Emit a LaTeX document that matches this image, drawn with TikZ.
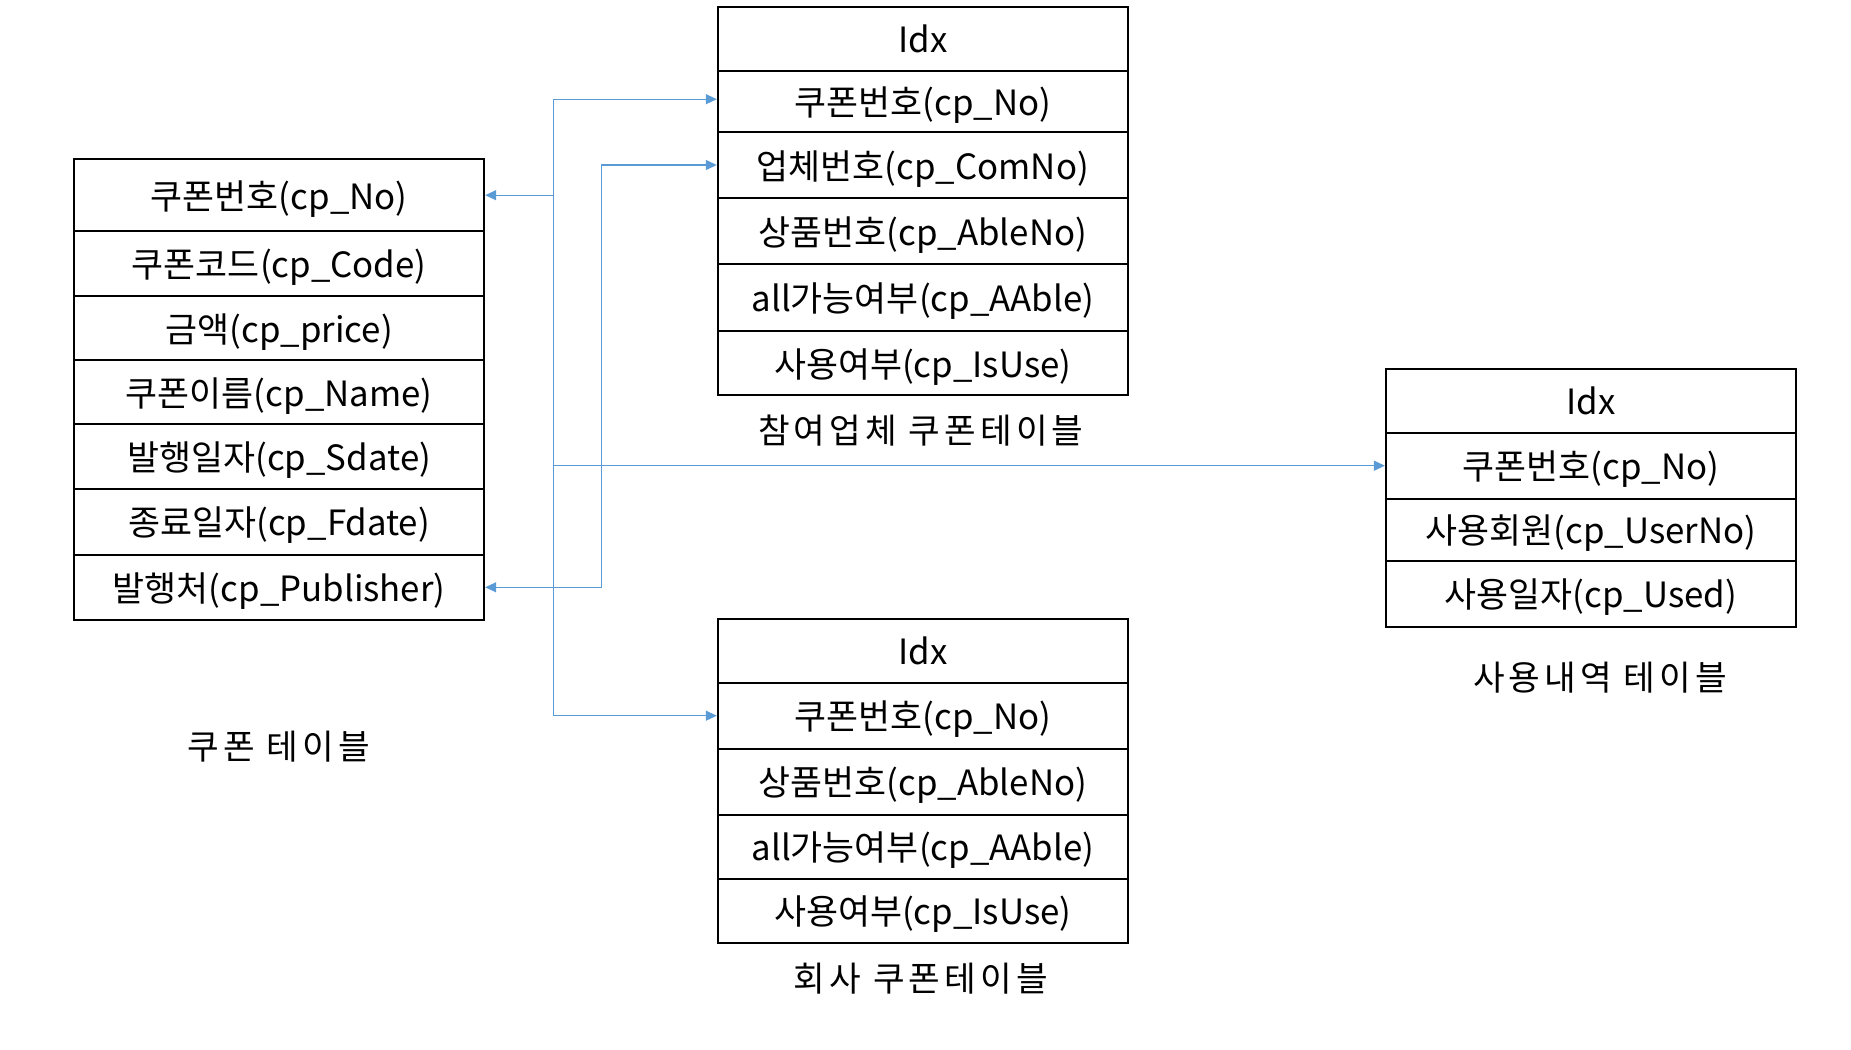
\documentclass[tikz,border=0pt]{standalone}
\usepackage{fontspec}
\setmainfont{Noto Sans CJK KR}
\newfontfamily\capfont[LetterSpace=12]{Noto Sans CJK KR}
\usetikzlibrary{arrows.meta}
\definecolor{linkblue}{HTML}{5B9BD5}
\begin{document}
\begin{tikzpicture}[x=0.5pt,y=-0.5pt,
  cell/.style={draw=black,line width=1pt,minimum width=205pt,inner sep=0pt,text height=17pt,text depth=3pt,font=\fontsize{17.4}{20}\selectfont},
  caption/.style={inner sep=0pt,font=\capfont\fontsize{17.2}{20}\selectfont},
  conn/.style={draw=linkblue,line width=0.65pt},
  tip/.tip={Triangle[length=5.5pt,width=5pt]}]
\useasboundingbox (0,0) rectangle (1851,1049);
% left table
\node[cell,minimum height=35.8pt] (L1) at (279.2,195.2) {쿠폰번호(cp\_No)};
\node[cell,minimum height=32.5pt] (L2) at (279.2,263.5) {쿠폰코드(cp\_Code)};
\node[cell,minimum height=32pt] (L3) at (279.2,328) {금액(cp\_price)};
\node[cell,minimum height=32.2pt] (L4) at (279.2,392.2) {쿠폰이름(cp\_Name)};
\node[cell,minimum height=32.4pt] (L5) at (279.2,456.7) {발행일자(cp\_Sdate)};
\node[cell,minimum height=32.7pt] (L6) at (279.2,521.8) {종료일자(cp\_Fdate)};
\node[cell,minimum height=32.7pt] (L7) at (279.2,587.3) {발행처(cp\_Publisher)};
\node[caption] (capL) at (278.6,747) {쿠폰 테이블};
% top table
\node[cell,minimum height=32.1pt] (T0) at (922.8,38.6) {Idx};
\node[cell,minimum height=30.7pt] (T1) at (922.8,101.4) {쿠폰번호(cp\_No)};
\node[cell,minimum height=33pt] (T2) at (922.8,165) {업체번호(cp\_ComNo)};
\node[cell,minimum height=33pt] (T3) at (922.8,231) {상품번호(cp\_AbleNo)};
\node[cell,minimum height=33.5pt] (T4) at (922.8,297.5) {all가능여부(cp\_AAble)};
\node[cell,minimum height=32pt] (T5) at (922.8,363) {사용여부(cp\_IsUse)};
\node[caption] (capT) at (920.8,431) {참여업체 쿠폰테이블};
% bottom table
\node[cell,minimum height=31.9pt] (B0) at (922.8,650.9) {Idx};
\node[cell,minimum height=33pt] (B1) at (922.8,715.7) {쿠폰번호(cp\_No)};
\node[cell,minimum height=33.2pt] (B2) at (922.8,781.9) {상품번호(cp\_AbleNo)};
\node[cell,minimum height=31.9pt] (B3) at (922.8,846.9) {all가능여부(cp\_AAble)};
\node[cell,minimum height=32pt] (B4) at (922.8,910.7) {사용여부(cp\_IsUse)};
\node[caption] (capB) at (920.8,979) {회사 쿠폰테이블};
% right table
\node[cell,minimum height=31.9pt] (R0) at (1590.9,400.9) {Idx};
\node[cell,minimum height=33pt] (R1) at (1590.9,465.7) {쿠폰번호(cp\_No)};
\node[cell,minimum height=31pt] (R2) at (1590.9,529.7) {사용회원(cp\_UserNo)};
\node[cell,minimum height=33pt] (R3) at (1590.9,593.7) {사용일자(cp\_Used)};
\node[caption] (capR) at (1600,678) {사용내역 테이블};
% connectors
\coordinate (bx) at (553.6,0);
\coordinate (bx2) at (601.5,0);
\coordinate (t1in) at ([yshift=1.1pt]T1.west);
\draw[conn] (bx |- t1in) -- (bx |- B1.west);
\draw[conn,-tip] (bx |- L1.east) -- (L1.east);
\draw[conn,-tip] (bx |- t1in) -- (t1in);
\draw[conn,-tip] (bx |- R1.west) -- (R1.west);
\draw[conn,-tip] (bx |- B1.west) -- (B1.west);
\draw[conn,tip-tip] (L7.east) -- (L7.east -| bx2) -- (bx2 |- T2.west) -- (T2.west);
\end{tikzpicture}
\end{document}
